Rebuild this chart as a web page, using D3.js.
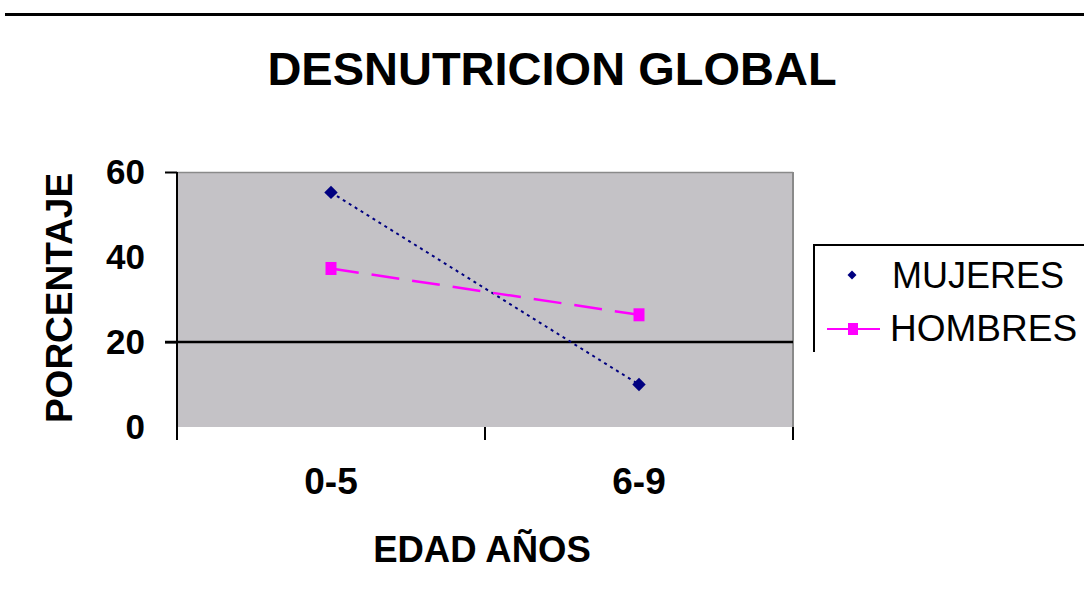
<!DOCTYPE html>
<html>
<head>
<meta charset="utf-8">
<script src="https://cdn.jsdelivr.net/npm/d3@7"></script>
<style>
body{margin:0;background:#fff;}
text{font-family:"Liberation Sans",Arial,sans-serif;fill:#000;}
</style>
</head>
<body>
<div id="viz"></div>
<script>
// data
var ages=["0-5","6-9"];
var mujeres=[55.2,10.0];
var hombres=[37.3,26.4];
var yTicks=[0,20,40,60];

var width=1084, height=598;
var plot={left:177,right:793,top:172,bottom:427};

var svg=d3.select("#viz").append("svg")
  .attr("width",width).attr("height",height);

// rule across the top
svg.append("rect").attr("x",5).attr("y",13).attr("width",1079).attr("height",3).attr("fill","#000");

svg.append("text")
  .attr("x",552).attr("y",85)
  .attr("text-anchor","middle")
  .style("font-size","47px").style("font-weight","bold")
  .text("DESNUTRICION GLOBAL");

var x=d3.scaleBand().domain(ages).range([plot.left,plot.right]);
var y=d3.scaleLinear().domain([0,60]).range([plot.bottom,plot.top]);

// plot area
svg.append("rect")
  .attr("x",plot.left).attr("y",plot.top)
  .attr("width",plot.right-plot.left).attr("height",plot.bottom-plot.top)
  .attr("fill","#c4c2c6");
svg.append("line").attr("x1",plot.left).attr("x2",plot.right).attr("y1",plot.top+0.5).attr("y2",plot.top+0.5)
  .attr("stroke","#8a8a8a").attr("stroke-width",1.5);
svg.append("line").attr("x1",plot.right).attr("x2",plot.right).attr("y1",plot.top).attr("y2",plot.bottom)
  .attr("stroke","#8a8a8a").attr("stroke-width",2);

// gridline at 20
svg.append("line")
  .attr("x1",165).attr("x2",plot.right)
  .attr("y1",y(20)).attr("y2",y(20))
  .attr("stroke","#000").attr("stroke-width",2.5);

// y axis
var yAxis=d3.axisLeft(y).tickValues(yTicks).tickSize(12).tickPadding(20);
var gy=svg.append("g").attr("transform","translate("+plot.left+",0)").call(yAxis);
gy.select(".domain").remove();
gy.selectAll(".tick line").attr("stroke","#000").attr("stroke-width",2)
  .style("display",function(d){return (d==60||d==20)?null:"none";});
gy.selectAll(".tick text").style("font-size","35px").style("font-weight","bold")
  .style("font-family","Liberation Sans, Arial, sans-serif").attr("fill","#000");
svg.append("line").attr("x1",plot.left).attr("x2",plot.left).attr("y1",plot.top).attr("y2",plot.bottom+13)
  .attr("stroke","#000").attr("stroke-width",2);

// x ticks at band edges
var edges=ages.map(function(d){return x(d);}).concat([plot.right]);
svg.selectAll(".xtick").data(edges).enter().append("line")
  .attr("class","xtick")
  .attr("x1",function(d){return d;}).attr("x2",function(d){return d;})
  .attr("y1",plot.bottom).attr("y2",plot.bottom+13)
  .attr("stroke","#000").attr("stroke-width",2);
svg.selectAll(".xlab").data(ages).enter().append("text")
  .attr("class","xlab")
  .attr("x",function(d){return x(d)+x.bandwidth()/2;})
  .attr("y",494)
  .attr("text-anchor","middle")
  .style("font-size","37px").style("font-weight","bold")
  .text(function(d){return d;});

// axis titles
svg.append("text")
  .attr("transform","translate(72,298) rotate(-90)")
  .attr("text-anchor","middle")
  .style("font-size","37px").style("font-weight","bold")
  .text("PORCENTAJE");
svg.append("text")
  .attr("x",482).attr("y",562)
  .attr("text-anchor","middle")
  .style("font-size","36.5px").style("font-weight","bold")
  .text("EDAD AÑOS");

// series
var line=d3.line()
  .x(function(d,i){return x(ages[i])+x.bandwidth()/2;})
  .y(function(d){return y(d);});

svg.append("path").datum(mujeres)
  .attr("d",line).attr("fill","none")
  .attr("stroke","#000080").attr("stroke-width",2).attr("stroke-dasharray","3,4");
svg.append("path").datum(hombres)
  .attr("d",line).attr("fill","none")
  .attr("stroke","#ff00ff").attr("stroke-width",2.5).attr("stroke-dasharray","28,13");

var diamond=d3.symbol().type(d3.symbolSquare).size(90);
svg.selectAll(".mpt").data(mujeres).enter().append("path")
  .attr("class","mpt")
  .attr("d",diamond)
  .attr("transform",function(d,i){return "translate("+(x(ages[i])+x.bandwidth()/2)+","+y(d)+") rotate(45)";})
  .attr("fill","#000080");
svg.selectAll(".hpt").data(hombres).enter().append("rect")
  .attr("class","hpt")
  .attr("x",function(d,i){return x(ages[i])+x.bandwidth()/2-5.5;})
  .attr("y",function(d){return y(d)-6.5;})
  .attr("width",11).attr("height",13)
  .attr("fill","#ff00ff");

// legend
var lg=svg.append("g");
lg.append("path").attr("d","M814,352 V245 H1084").attr("fill","none").attr("stroke","#000").attr("stroke-width",2);
lg.append("path").attr("d",d3.symbol().type(d3.symbolSquare).size(40))
  .attr("transform","translate(852,275) rotate(45)").attr("fill","#000080");
lg.append("text").attr("x",892).attr("y",288).style("font-size","36px").text("MUJERES");
lg.append("line").attr("x1",827).attr("x2",880).attr("y1",329).attr("y2",329)
  .attr("stroke","#ff00ff").attr("stroke-width",2);
lg.append("rect").attr("x",848).attr("y",323).attr("width",10).attr("height",12).attr("fill","#ff00ff");
lg.append("text").attr("x",890).attr("y",341).style("font-size","37px").text("HOMBRES");
</script>
</body>
</html>
